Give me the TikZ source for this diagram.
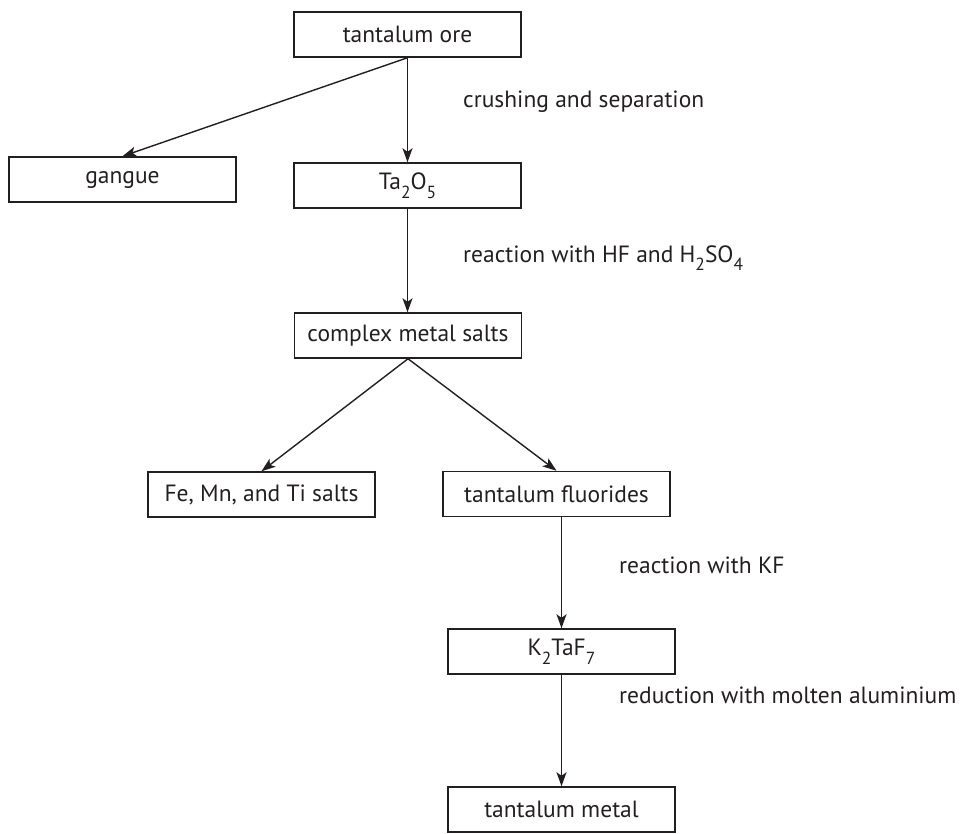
\documentclass[tikz,border=0pt]{standalone}
\usepackage{fontspec}
\setmainfont{PT Sans}
\usetikzlibrary{arrows.meta}
\definecolor{ink}{HTML}{231F20}
\newcommand{\lowsub}[1]{\raisebox{-0.38em}{\fontsize{17.5}{17.5}\selectfont #1}}
\tikzset{
  box/.style={draw=ink, line width=1.5pt, minimum width=227pt, minimum height=45pt,
    inner sep=0pt, font=\fontsize{23.5}{23.5}\selectfont, text=ink},
  lbl/.style={anchor=base west, inner sep=0pt, font=\fontsize{23.5}{23.5}\selectfont, text=ink},
  arr/.style={draw=ink, line width=1.4pt, -{Stealth[length=14pt,width=10pt,inset=3.5pt]}}
}
\begin{document}
\begin{tikzpicture}[x=1pt,y=-1pt]
\useasboundingbox (0,0) rectangle (960,833);
\node[box] (ore) at (407.5,34.5) {tantalum ore};
\node[box] (gangue) at (122.5,179.5) {gangue};
\node[box] (ta) at (407.5,185.5) {Ta\lowsub{2}O\lowsub{5}};
\node[box] (cms) at (408,335.5) {complex metal salts};
\node[box] (fe) at (261.5,494.5) {Fe, Mn, and Ti salts};
\node[box] (tf) at (556.5,494) {tantalum fluorides};
\node[box] (k2) at (561.5,651.5) {K\lowsub{2}TaF\lowsub{7}};
\node[box] (tm) at (561.5,809.5) {tantalum metal};

\node[lbl] (l1) at (463,107) {crushing and separation};
\node[lbl] (l2) at (463,262) {reaction with HF and H\lowsub{2}SO\lowsub{4}};
\node[lbl] (l3) at (619,573) {reaction with KF};
\node[lbl] (l4) at (619,703) {reduction with molten aluminium};

\draw[arr] (ore.south) -- (ta.north);
\draw[arr] (ore.south) -- (gangue.north);
\draw[arr] (ta.south) -- (ta.south |- cms.north);
\draw[arr] (cms.south) -- (fe.north);
\draw[arr] (cms.south) -- (tf.north);
\draw[arr] (tf.south -| k2.north) -- (k2.north);
\draw[arr] (k2.south) -- (tm.north);
\end{tikzpicture}
\end{document}
